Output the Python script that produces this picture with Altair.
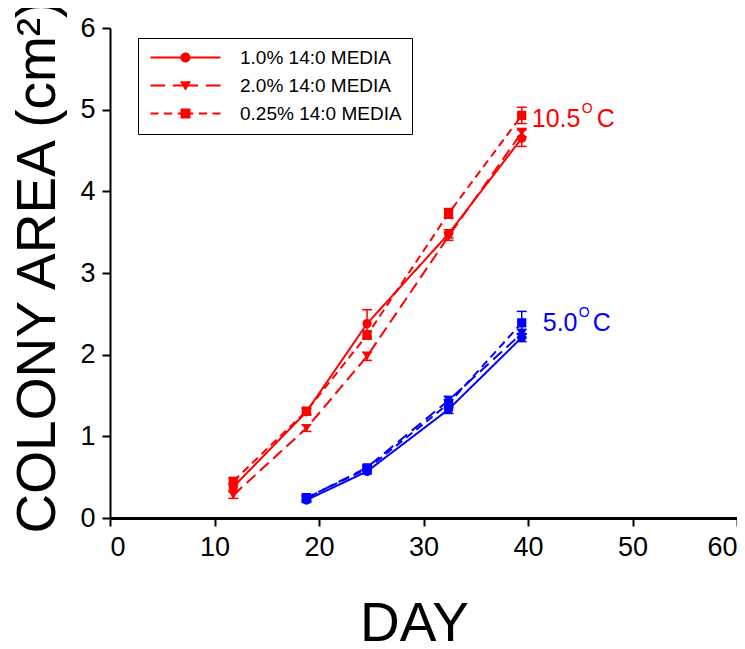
import altair as alt
import pandas as pd

# ---------------- data ----------------
series_names = ["1.0% 14:0 MEDIA", "2.0% 14:0 MEDIA", "0.25% 14:0 MEDIA"]
temps = ["10.5", "5.0"]

days_red = [11.8, 18.8, 24.6, 32.4, 39.4]
red_1_0 = [0.38, 1.30, 2.38, 3.48, 4.65]
red_2_0 = [0.28, 1.10, 1.98, 3.45, 4.72]
red_0_25 = [0.45, 1.31, 2.24, 3.73, 4.93]
red_1_0_err = [0.04, 0.04, 0.17, 0.05, 0.10]
red_2_0_err = [0.04, 0.04, 0.05, 0.05, 0.05]
red_0_25_err = [0.04, 0.04, 0.05, 0.06, 0.10]

days_blue = [18.8, 24.6, 32.4, 39.4]
blue_1_0 = [0.22, 0.57, 1.33, 2.21]
blue_2_0 = [0.24, 0.62, 1.44, 2.26]
blue_0_25 = [0.25, 0.60, 1.40, 2.39]
blue_1_0_err = [0.03, 0.03, 0.05, 0.05]
blue_2_0_err = [0.03, 0.03, 0.05, 0.05]
blue_0_25_err = [0.03, 0.03, 0.05, 0.14]

ann_text = ["10.5", "5.0"]
ann_day = [39.4, 39.4]
ann_area = [4.79, 2.29]

x_ticks = [0, 10, 20, 30, 40, 50, 60]
y_ticks = [0, 1, 2, 3, 4, 5, 6]

# ---------------- table ----------------
rows = []
for temp, days, groups in [
    ("10.5", days_red, [(red_1_0, red_1_0_err), (red_2_0, red_2_0_err), (red_0_25, red_0_25_err)]),
    ("5.0", days_blue, [(blue_1_0, blue_1_0_err), (blue_2_0, blue_2_0_err), (blue_0_25, blue_0_25_err)]),
]:
    for name, (vals, errs) in zip(series_names, groups):
        for d, v, e in zip(days, vals, errs):
            rows.append({"day": d, "area": v, "lo": v - e, "hi": v + e,
                         "series": name, "temp": temp})
df = pd.DataFrame(rows)
ann = pd.DataFrame({"label": ann_text, "day": ann_day, "area": ann_area, "temp": temps})

RED = "#ff0000"
BLUE = "#0000ff"
SANS = "Liberation Sans, Arial"

xs = alt.Scale(domain=[0, 60], nice=False, zero=False)
ys = alt.Scale(domain=[0, 6], nice=False)
color = alt.Color("temp:N", scale=alt.Scale(domain=temps, range=[RED, BLUE]), legend=None)

x_enc = alt.X("day:Q", scale=xs, axis=alt.Axis(
    values=x_ticks, format="d", title="DAY", grid=False, labelFont=SANS, labelFontSize=27,
    labelColor="black", labelPadding=8, tickSize=8, tickWidth=2, tickColor="black",
    domainColor="black", domainWidth=3, titleFont=SANS, titleFontSize=55,
    titleFontWeight="normal", titleColor="black", titleX=304, titleY=122,
    titleBaseline="alphabetic", titleAlign="center"))
y_enc = alt.Y("area:Q", scale=ys, axis=alt.Axis(
    values=y_ticks, format="d", title="COLONY AREA (cm²)", grid=False, labelFont=SANS,
    labelFontSize=27, labelColor="black", labelPadding=7, tickSize=8, tickWidth=2,
    tickColor="black", domainColor="black", domainWidth=2, titleFont=SANS,
    titleFontSize=55, titleFontWeight="normal", titleColor="black", titleX=-56,
    titleY=238, titleAngle=270, titleBaseline="alphabetic", titleAlign="center"))

base = alt.Chart(df)

lines = base.mark_line(strokeWidth=2).encode(
    x=x_enc, y=y_enc, color=color,
    strokeDash=alt.StrokeDash("series:N", scale=alt.Scale(
        domain=series_names, range=[[1, 0], [12, 6], [8, 5]]), legend=None),
)

err_rule = base.mark_rule(strokeWidth=1.5).encode(
    x="day:Q", y="lo:Q", y2="hi:Q", color=color)
cap_lo = base.mark_tick(orient="horizontal", size=10, thickness=1.5, opacity=1).encode(
    x="day:Q", y="lo:Q", color=color)
cap_hi = base.mark_tick(orient="horizontal", size=10, thickness=1.5, opacity=1).encode(
    x="day:Q", y="hi:Q", color=color)

points = base.mark_point(filled=True, size=85, opacity=1).encode(
    x="day:Q", y="area:Q", color=color,
    shape=alt.Shape("series:N", scale=alt.Scale(
        domain=series_names, range=["circle", "triangle-down", "square"]), legend=None),
)

# legend symbols: line + marker drawn as filled custom symbol paths
def seg(a, b):
    return f"M{a},-0.15H{b}V0.15H{a}Z"

p_solid = seg(-1, 9) + "M3.286,0A0.714,0.714,0,1,1,4.714,0A0.714,0.714,0,1,1,3.286,0Z"
p_dash = seg(-1, 1.1) + seg(2.2, 5.8) + seg(6.9, 9) + "M3.2,-0.6L4.8,-0.6L4,0.75Z"
p_short = (seg(-1, 0.15) + seg(0.9, 2.1) + seg(2.9, 5.1) + seg(5.9, 7.1) + seg(7.85, 9)
           + "M3.29,-0.71H4.71V0.71H3.29Z")

legend_layer = alt.Chart(df[df.temp == "10.5"]).mark_point(
    filled=True, fill=RED, size=196, opacity=0
).encode(
    x="day:Q", y="area:Q",
    shape=alt.Shape("series:N", scale=alt.Scale(
        domain=series_names, range=[p_solid, p_dash, p_short]),
        legend=alt.Legend(
            title=None, orient="none", legendX=28, legendY=10,
            strokeColor="black", fillColor="white", padding=10,
            labelFont=SANS, labelFontSize=19, labelColor="black",
            labelOffset=73, rowPadding=8, symbolSize=196,
            symbolFillColor=RED, symbolOpacity=1, labelLimit=400)),
)

def ann_layer(temp, txt_dx, o_dx, c_dx):
    d = ann[ann.temp == temp]
    c = alt.Chart(d)
    num = c.mark_text(align="left", baseline="alphabetic", font=SANS, fontSize=25,
                      dx=txt_dx).encode(x="day:Q", y="area:Q", text="label:N", color=color)
    o = c.mark_text(align="left", baseline="alphabetic", font=SANS, fontSize=14,
                    dx=o_dx, dy=-14).encode(x="day:Q", y="area:Q", text=alt.value("O"),
                                             color=color)
    cc = c.mark_text(align="left", baseline="alphabetic", font=SANS, fontSize=25,
                     dx=c_dx).encode(x="day:Q", y="area:Q", text=alt.value("C"), color=color)
    return num + o + cc

ann_red = ann_layer("10.5", 10, 60, 75)
ann_blue = ann_layer("5.0", 21, 57, 71)

chart = alt.layer(
    lines, err_rule, cap_lo, cap_hi, points, legend_layer, ann_red, ann_blue
).resolve_scale(shape="independent").properties(
    width=627, height=490,
    autosize=alt.AutoSizeParams(type="none"),
    padding={"left": 102, "top": 20, "right": 0, "bottom": 123},
).configure_view(stroke=None)

chart.save("out.html", embed_options={"renderer": "svg", "actions": False})
